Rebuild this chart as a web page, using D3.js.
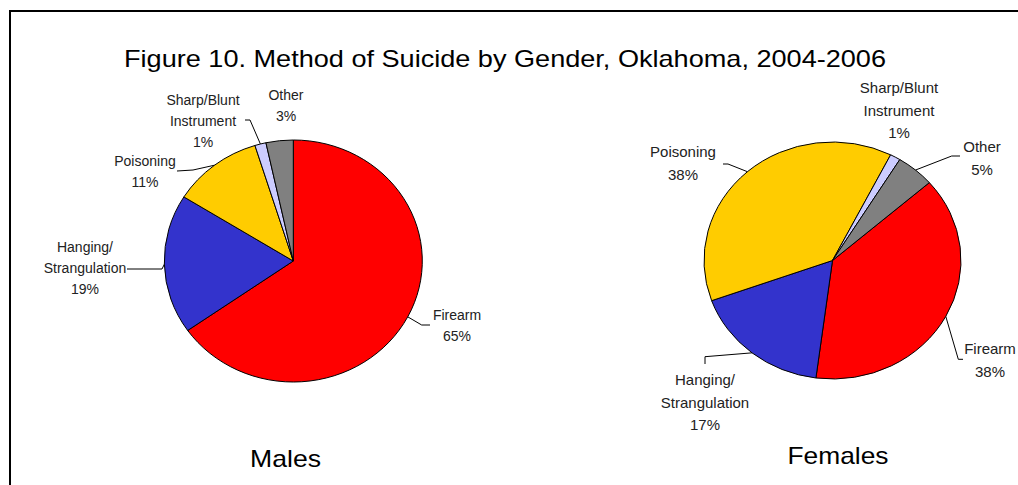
<!DOCTYPE html>
<html>
<head>
<meta charset="utf-8">
<script src="https://cdn.jsdelivr.net/npm/d3@7"></script>
<style>
  body { margin: 0; background: #fff; overflow: hidden; }
  svg { display: block; font-family: Arial, "Liberation Sans", sans-serif; }
</style>
</head>
<body>
<svg></svg>
<script>
const w = 1018;
const h = 485;

// data
const methods = ['Firearm', 'Hanging/Strangulation', 'Poisoning', 'Sharp/Blunt Instrument', 'Other'];
const labelLines = [['Firearm'], ['Hanging/', 'Strangulation'], ['Poisoning'], ['Sharp/Blunt', 'Instrument'], ['Other']];
const maleValues = [65.2, 18.6, 11.3, 1.4, 3.4];
const femaleValues = [38.4, 17.4, 37.9, 1.3, 4.8];
const malePct = ['65%', '19%', '11%', '1%', '3%'];
const femalePct = ['38%', '17%', '38%', '1%', '5%'];
const colors = ['#ff0000', '#3333cc', '#ffcc00', '#ccccff', '#808080'];

const svg = d3.select('svg').attr('width', w).attr('height', h);

// frame: only top and left edges are inside the picture
svg.append('path')
  .attr('d', `M10,${h + 5}V11H${w + 5}`)
  .attr('fill', 'none').attr('stroke', '#000').attr('stroke-width', 2);

svg.append('text')
  .attr('x', 505).attr('y', 67)
  .attr('text-anchor', 'middle')
  .attr('font-size', 24)
  .attr('textLength', 762).attr('lengthAdjust', 'spacingAndGlyphs')
  .text('Figure 10. Method of Suicide by Gender, Oklahoma, 2004-2006');

const color = d3.scaleOrdinal().domain(methods).range(colors);

const pies = [
  {
    name: 'Males', values: maleValues, pct: malePct,
    cx: 293.3, cy: 261, rx: 129, ry: 121, start: 0,
    fontSize: 14, lh: 21,
    caption: { x: 285.5, y: 467, len: 71 },
    labels: [
      { x: 457, y: 320, leader: [[421.7, 325], [430, 325]] },
      { x: 85, y: 252, leader: [[162, 269], [127, 269]] },
      { x: 145, y: 166, leader: [[193, 170], [177, 171]] },
      { x: 203, y: 105, leader: [[250, 120], [245, 120]] },
      { x: 286, y: 100, leader: null }
    ]
  },
  {
    name: 'Females', values: femaleValues, pct: femalePct,
    cx: 832.5, cy: 260.5, rx: 128.5, ry: 118.5, start: 48.9 * Math.PI / 180,
    fontSize: 15, lh: 22.5,
    caption: { x: 838, y: 464, len: 101 },
    labels: [
      { x: 990, y: 354, leader: [[958.3, 359.3], [963, 359.3]] },
      { x: 705, y: 385, leader: [[705, 356.7], [705, 364]] },
      { x: 683, y: 157, leader: [[728, 164], [723, 164]] },
      { x: 899, y: 93, leader: null },
      { x: 982, y: 152, leader: [[951.7, 156], [960, 156]] }
    ]
  }
];

pies.forEach((p) => {
  const pie = d3.pie().sort(null)
    .startAngle(p.start).endAngle(p.start + 2 * Math.PI);
  const arcs = pie(p.values);
  const arc = d3.arc().innerRadius(0).outerRadius(p.ry);

  const g = svg.append('g')
    .attr('transform', `translate(${p.cx},${p.cy}) scale(${p.rx / p.ry},1)`);

  g.selectAll('path')
    .data(arcs)
    .enter()
    .append('path')
    .attr('d', arc)
    .attr('fill', (d, i) => color(methods[i]))
    .attr('stroke', '#000')
    .attr('stroke-width', 1)
    .attr('vector-effect', 'non-scaling-stroke');

  const line = d3.line();
  arcs.forEach((d, i) => {
    const lab = p.labels[i];
    if (lab.leader) {
      const a = (d.startAngle + d.endAngle) / 2;
      const edge = [p.cx + Math.sin(a) * p.rx, p.cy - Math.cos(a) * p.ry];
      svg.append('path')
        .attr('d', line([edge].concat(lab.leader)))
        .attr('fill', 'none')
        .attr('stroke', '#000')
        .attr('stroke-width', 1);
    }
    const t = svg.append('text')
      .attr('text-anchor', 'middle')
      .attr('font-size', p.fontSize)
      .attr('fill', '#222');
    labelLines[i].concat([p.pct[i]]).forEach((s, k) => {
      t.append('tspan')
        .attr('x', lab.x)
        .attr('y', lab.y + k * p.lh)
        .text(s);
    });
  });

  svg.append('text')
    .attr('x', p.caption.x).attr('y', p.caption.y)
    .attr('text-anchor', 'middle')
    .attr('font-size', 24)
    .attr('textLength', p.caption.len).attr('lengthAdjust', 'spacingAndGlyphs')
    .text(p.name);
});
</script>
</body>
</html>
